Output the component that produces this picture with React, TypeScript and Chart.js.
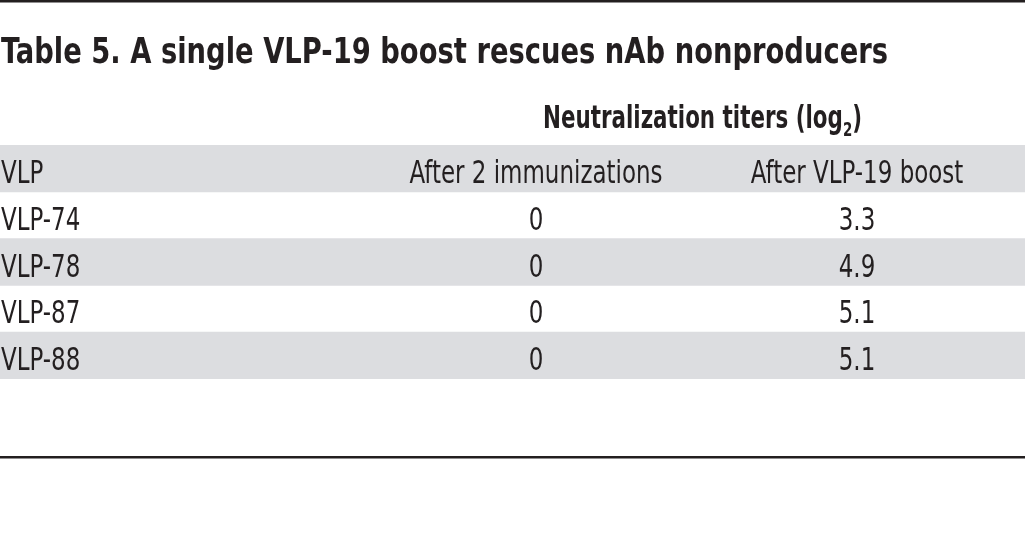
import React, { useEffect, useRef } from "react";
import { Chart, registerables } from "chart.js";

Chart.register(...registerables);

// ---- data ----
const titleText = "Table 5. A single VLP-19 boost rescues nAb nonproducers";
const spannerText = "Neutralization titers (log";
const spannerSub = "2";
const spannerEnd = ")";
const columnHeaders = ["VLP", "After 2 immunizations", "After VLP-19 boost"];
const rowLabels = ["VLP-74", "VLP-78", "VLP-87", "VLP-88"];
const afterTwoImmunizations = [0, 0, 0, 0];
const afterBoost = [3.3, 4.9, 5.1, 5.1];

// ---- layout / style ----
const W = 1025;
const H = 536;
const FONT = '"Liberation Sans Narrow", "DejaVu Sans Condensed", "Liberation Sans", sans-serif';
const INK = "#231f20";
const BAND = "#dcdde0";
const colX = [1, 536, 857];
const colAlign: CanvasTextAlign[] = ["left", "center", "center"];

function drawScaled(
  ctx: CanvasRenderingContext2D,
  text: string,
  x: number,
  y: number,
  align: CanvasTextAlign,
  sx: number
) {
  ctx.save();
  ctx.translate(x, y);
  ctx.scale(sx, 1);
  ctx.textAlign = align;
  ctx.fillText(text, 0, 0);
  ctx.restore();
}

const tablePlugin = {
  id: "tableText",
  afterDatasetsDraw(chart: any) {
    const ctx: CanvasRenderingContext2D = chart.ctx;
    const yScale = chart.scales.y;
    ctx.save();
    ctx.fillStyle = INK;
    ctx.textBaseline = "alphabetic";

    // rules
    ctx.fillRect(0, 0, W, 2.5);
    ctx.fillRect(0, 456, W, 2.5);

    // title
    ctx.font = `bold 36px ${FONT}`;
    const tw = ctx.measureText(titleText).width;
    drawScaled(ctx, titleText, 1, 63, "left", 887 / tw);

    // spanner
    const mainFont = `bold 32px ${FONT}`;
    const subFont = `bold 20px ${FONT}`;
    ctx.font = mainFont;
    const w1 = ctx.measureText(spannerText).width;
    const w3 = ctx.measureText(spannerEnd).width;
    ctx.font = subFont;
    const w2 = ctx.measureText(spannerSub).width;
    const ssx = 319 / (w1 + w2 + w3);
    ctx.save();
    ctx.translate(543, 128);
    ctx.scale(ssx, 1);
    ctx.textAlign = "left";
    ctx.font = mainFont;
    ctx.fillText(spannerText, 0, 0);
    ctx.font = subFont;
    ctx.fillText(spannerSub, w1, 8);
    ctx.font = mainFont;
    ctx.fillText(spannerEnd, w1 + w2, 0);
    ctx.restore();

    // body
    ctx.font = `32px ${FONT}`;
    const bsx = 253 / ctx.measureText(columnHeaders[1]).width;
    const rows: string[][] = [
      columnHeaders,
      ...rowLabels.map((l, i) => [
        l,
        String(afterTwoImmunizations[i]),
        afterBoost[i].toFixed(1),
      ]),
    ];
    rows.forEach((cells, i) => {
      const yc = yScale.getPixelForValue(i);
      cells.forEach((c, j) => {
        drawScaled(ctx, c, colX[j], yc + 14.5, colAlign[j], bsx);
      });
    });
    ctx.restore();
  },
};

export default function App() {
  const ref = useRef<HTMLCanvasElement | null>(null);
  useEffect(() => {
    document.body.style.margin = "0";
    const categories = ["header", ...rowLabels];
    const chart = new Chart(ref.current!, {
      type: "bar",
      data: {
        labels: categories,
        datasets: [
          {
            data: categories.map((_, i) => (i % 2 === 0 ? [0, 1] : null)) as any,
            backgroundColor: BAND,
            borderWidth: 0,
            barPercentage: 1,
            categoryPercentage: 1,
          },
        ],
      },
      options: {
        indexAxis: "y",
        animation: false,
        responsive: false,
        devicePixelRatio: 1,
        layout: { padding: { top: 145, bottom: H - 379, left: 0, right: 0 } },
        plugins: { legend: { display: false }, tooltip: { enabled: false } },
        scales: {
          x: { type: "linear", min: 0, max: 1, display: false },
          y: { type: "category", display: false, offset: true },
        },
      },
      plugins: [tablePlugin],
    });
    return () => chart.destroy();
  }, []);
  return (
    <div style={{ position: "absolute", left: 0, top: 0, width: W, height: H, background: "#fff" }}>
      <canvas ref={ref} width={W} height={H} style={{ display: "block" }} />
    </div>
  );
}
